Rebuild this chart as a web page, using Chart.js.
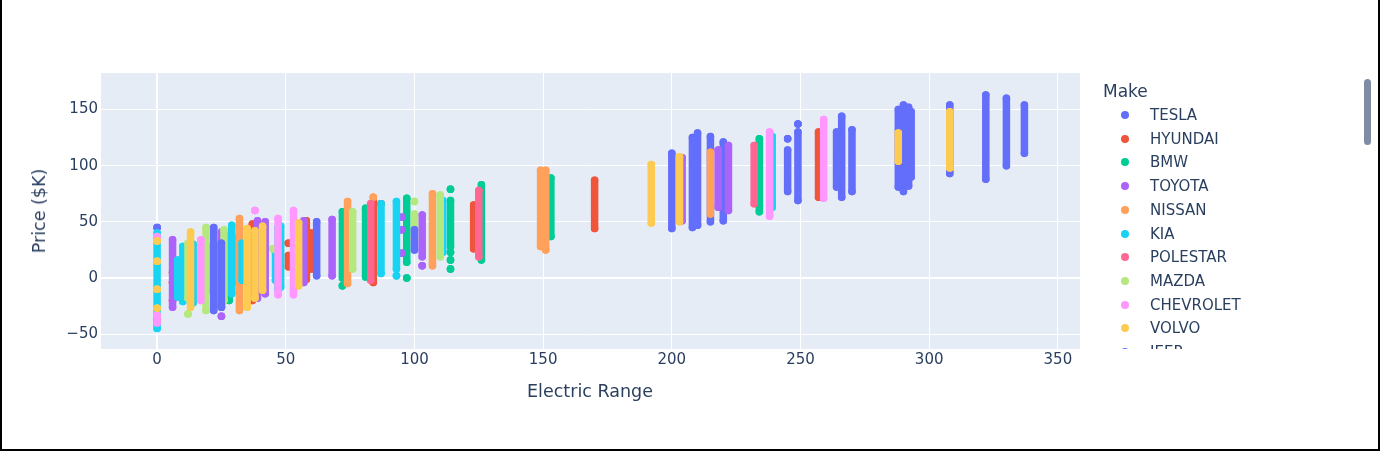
<!DOCTYPE html>
<html>
<head>
<meta charset="utf-8">
<script src="https://cdn.jsdelivr.net/npm/chart.js@4.4.1/dist/chart.umd.min.js"></script>
<style>
    body { margin: 0; background: #fff; font-family: "DejaVu Sans", verdana, arial, sans-serif; }
    #wrap { position: relative; width: 1380px; height: 451px; overflow: hidden; background: #fff; }
    #chart { position: absolute; left: 0; top: 0; }
    #frame { position: absolute; left: 0; top: 0; width: 1380px; height: 451px; box-sizing: border-box;
             border: 2px solid #000; border-top: none; pointer-events: none; }
    .axis-title { position: absolute; color: #2a3f5f; font-size: 17.5px; white-space: nowrap; }
    #xtitle { left: 590px; top: 391px; transform: translate(-50%, -50%); }
    #ytitle { left: 39px; top: 211px; transform: translate(-50%, -50%) rotate(-90deg); }
    #legend { position: absolute; left: 1090px; top: 73px; width: 270px; height: 276px; overflow: hidden; color: #2a3f5f; }
    #legend .ltitle { position: absolute; left: 13px; top: 18px; font-size: 17px; line-height: 1; transform: translateY(-50%); }
    #legend .item { position: absolute; left: 0; height: 20px; font-size: 15px; line-height: 20px; }
    #legend .dot { position: absolute; left: 31px; top: 6px; width: 8px; height: 8px; border-radius: 50%; }
    #legend .lab { position: absolute; left: 60px; top: 0; white-space: nowrap; }
    #scroll { position: absolute; left: 1364px; top: 79px; width: 7px; height: 66px; border-radius: 4px; background: #808BA4; }
</style>
</head>
<body>
<div id="wrap">
    <canvas id="chart" width="1380" height="451"></canvas>
    <div class="axis-title" id="xtitle">Electric Range</div>
    <div class="axis-title" id="ytitle">Price ($K)</div>
    <div id="legend"><div class="ltitle">Make</div></div>
    <div id="scroll"></div>
    <div id="frame"></div>
</div>
<script>
// each entry: [electric range, lowest price $K, highest price $K] for one column of cars
const TESLA = [[0, 45, 45], [200, 44, 111], [208, 45, 125], [210, 47, 129], [215, 50, 126], [220, 51, 121],
    [245, 77, 114], [245, 124, 124], [249, 69, 130], [249, 137, 137], [264, 81, 130], [266, 72, 144],
    [270, 77, 132], [288, 81, 150], [290, 77, 154], [292, 82, 152], [293, 90, 148], [308, 93, 154],
    [322, 88, 163], [330, 100, 160], [337, 111, 154]];
const HYUNDAI = [[0, -40, -40], [6, 5, 5], [6, -4, -4], [6, -20, -20], [19, -12, 29], [37, -20, 48],
    [51, 31, 31], [51, 10, 20], [58, -1, 51], [60, 8, 40], [84, -4, 68], [87, 66, 66], [123, 26, 65],
    [170, 44, 87], [257, 72, 130]];
const BMW = [[28, -20, 38], [56, 43, 43], [56, 25, 25], [56, 11, 11], [56, -3, -3], [72, 0, 59], [72, -7, -7],
    [81, 1, 62], [97, 14, 71], [97, 0, 0], [114, 28, 69], [114, 79, 79], [114, 23, 23], [114, 16, 16],
    [114, 8, 8], [126, 16, 83], [153, 37, 89], [234, 59, 124]];
const TOYOTA = [[6, -26, 34], [25, -26, 41], [25, -34, -34], [29, -5, 37], [39, -18, 51], [42, -14, 50],
    [57, -4, 51], [68, 2, 52], [95, 54, 54], [95, 43, 43], [95, 22, 22], [103, 19, 56], [103, 11, 11],
    [204, 51, 107], [218, 63, 114], [222, 60, 118]];
const NISSAN = [[32, -29, 53], [74, -5, 68], [84, 72, 72], [100, 35, 35], [107, 11, 75],
    [149, 28, 96], [150, 30, 90], [151, 25, 96], [215, 57, 112]];
const KIA = [[0, -45, 40], [8, -17, 16], [10, -21, 28], [14, -22, 30], [29, -14, 47], [33, -2, 31],
    [46, -2, 23], [47, -10, 45], [48, -8, 46], [54, 1, 41], [87, 4, 66], [93, 8, 68], [93, 2, 2],
    [111, 23, 69], [239, 63, 126]];
const POLESTAR = [[0, -38, -36], [83, -2, 66], [125, 19, 78], [232, 66, 118]];
const MAZDA = [[12, -18, 31], [12, -32, -32], [17, 16, 16], [19, -29, 45], [26, -20, 43], [45, 26, 26],
    [76, 8, 59], [100, 34, 57], [100, 68, 68], [110, 19, 74]];
const CHEVROLET = [[0, -40, -33], [0, 33, 37], [17, -20, 34], [38, 60, 60], [47, -15, 53], [53, -15, 60],
    [238, 55, 130], [259, 71, 141]];
const VOLVO = [[0, 15, 15], [0, -10, -10], [0, -27, -27], [0, 33, 33], [13, -26, 41], [35, -26, 44],
    [38, -18, 42], [41, -11, 46], [55, -7, 49], [192, 49, 101], [203, 50, 108], [288, 104, 129], [308, 98, 148]];
const JEEP = [[22, -29, 45], [25, -26, 31], [62, 2, 50], [100, 25, 43]];

const makes = ['TESLA', 'HYUNDAI', 'BMW', 'TOYOTA', 'NISSAN', 'KIA', 'POLESTAR', 'MAZDA', 'CHEVROLET', 'VOLVO', 'JEEP'];
const makeData = [TESLA, HYUNDAI, BMW, TOYOTA, NISSAN, KIA, POLESTAR, MAZDA, CHEVROLET, VOLVO, JEEP];
const colors = ['#636efa', '#EF553B', '#00cc96', '#ab63fa', '#FFA15A', '#19d3f3', '#FF6692', '#B6E880', '#FF97FF', '#FECB52', '#636efa'];

const xTicks = [0, 50, 100, 150, 200, 250, 300, 350];
const yTicks = [-50, 0, 50, 100, 150];

const FONT = '"DejaVu Sans", verdana, arial, sans-serif';
const TXT = '#2a3f5f';

// a column is a thick round-capped segment from low to high, gaps split columns
const toPoints = (cols) => {
    const pts = [];
    cols.forEach(([r, lo, hi]) => {
        pts.push({ x: r, y: lo }, { x: r, y: hi }, { x: r, y: null });
    });
    return pts;
};

const plotBg = {
    id: 'plotBg',
    beforeDraw(chart) {
        const { ctx, chartArea: a } = chart;
        ctx.save();
        ctx.fillStyle = '#fff';
        ctx.fillRect(0, 0, chart.width, chart.height);
        ctx.fillStyle = '#E5ECF6';
        ctx.fillRect(a.left, a.top, a.right - a.left, a.bottom - a.top);
        ctx.restore();
    }
};

const gridWidth = (ctx) => (ctx.tick && ctx.tick.value === 0 ? 2 : 1);
const minus = (v) => (v < 0 ? '\u2212' + Math.abs(v) : String(v));

new Chart(document.getElementById('chart'), {
    type: 'scatter',
    data: {
        datasets: makes.map((m, i) => ({
            label: m,
            data: toPoints(makeData[i]),
            showLine: true,
            spanGaps: false,
            borderColor: colors[i],
            backgroundColor: colors[i],
            borderWidth: 7.5,
            borderCapStyle: 'round',
            pointRadius: 3.75,
            pointBorderWidth: 0,
            pointBackgroundColor: colors[i],
            order: -i
        }))
    },
    options: {
        responsive: false,
        animation: false,
        layout: { padding: { top: 73, right: 300, left: 0, bottom: 0 } },
        plugins: { legend: { display: false }, tooltip: { enabled: false } },
        scales: {
            x: {
                type: 'linear',
                min: -21.8,
                max: 358.6,
                afterFit: (s) => { s.height = 102; },
                afterBuildTicks: (s) => { s.ticks = xTicks.map(v => ({ value: v })); },
                ticks: { color: TXT, font: { family: FONT, size: 15 }, padding: 2, maxRotation: 0, callback: minus },
                grid: { color: '#fff', lineWidth: gridWidth, drawTicks: false },
                border: { display: false }
            },
            y: {
                min: -63.2,
                max: 182.5,
                afterFit: (s) => { s.width = 101; },
                afterBuildTicks: (s) => { s.ticks = yTicks.map(v => ({ value: v })); },
                ticks: { color: TXT, font: { family: FONT, size: 15 }, padding: 3, callback: minus },
                grid: { color: '#fff', lineWidth: gridWidth, drawTicks: false },
                border: { display: false }
            }
        }
    },
    plugins: [plotBg]
});

// legend on the right, clipped like the scrolling original
const legend = document.getElementById('legend');
makes.forEach((m, i) => {
    const row = document.createElement('div');
    row.className = 'item';
    row.style.top = (32 + i * 23.7) + 'px';
    row.innerHTML = '<span class="dot" style="background:' + colors[i] + '"></span><span class="lab">' + m + '</span>';
    legend.appendChild(row);
});
</script>
</body>
</html>
